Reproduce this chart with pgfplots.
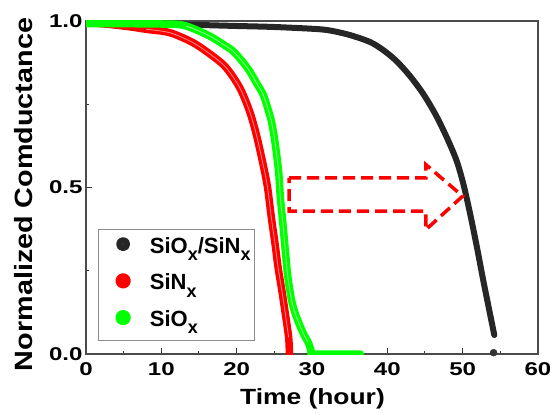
\documentclass[border=0pt]{standalone}
\usepackage{fontspec}
\setmainfont{Liberation Sans}
\usepackage{graphicx}
\usepackage{pgfplots}
\pgfplotsset{compat=1.18}
\newcommand\sub[1]{\raisebox{-0.33em}{\fontsize{18bp}{18bp}\selectfont #1}}
\begin{document}
\begin{tikzpicture}
\begin{axis}[
  scale only axis, width=452bp, height=333bp,
  xmin=0, xmax=60, ymin=0, ymax=1.0,
  xtick={0,10,...,60}, minor xtick={5,15,...,55},
  ytick={0,0.5,1}, minor ytick={0.25,0.75},
  tick pos=left, tick align=inside,
  major tick length=6bp, minor tick length=3.5bp,
  axis line style={draw=black!70, line width=1.1bp},
  every tick/.style={black!80, line width=1bp},
  /pgf/number format/assume math mode=true,
  xticklabel={\scalebox{1.3}[1]{\pgfmathprintnumber{\tick}}},
  yticklabel={\scalebox{1.3}[1]{\pgfmathprintnumber[fixed,fixed zerofill,precision=1]{\tick}}},
  ticklabel style={font=\fontsize{18.5bp}{20bp}\selectfont\bfseries},
  xticklabel style={yshift=-5bp},
  xlabel={\scalebox{1.2}[1]{Time (hour)}},
  xlabel style={at={(axis description cs:0.501,-0.153)}, anchor=base, font=\fontsize{22bp}{24bp}\selectfont\bfseries},
  ylabel={\scalebox{1.15}[1]{Normalized Comductance}},
  ylabel style={at={(axis description cs:-0.1173,0.479)}, anchor=base, font=\fontsize{25bp}{27bp}\selectfont\bfseries},
  legend style={at={(rel axis cs:0.0265,0.039)}, anchor=south west, draw=black!45, line width=0.8bp,
    inner xsep=4bp, inner ysep=8bp, row sep=14bp, column sep=0bp,
    nodes={inner sep=0pt, text height=15bp, text depth=6bp},
    font=\fontsize{22bp}{23bp}\selectfont\bfseries},
  legend cell align=left,
]
\addplot[black!85, line width=6bp, line join=round, line cap=round, smooth, tension=0.5,
  legend image code/.code={\path (0bp,0bp) (40bp,0bp); \shade[ball color=black] (17bp,4.5bp) circle (4bp);}]
coordinates {
(0,0.995) (5,0.992) (10,0.99) (15,0.988) (20,0.985) (25,0.982) (30.5,0.976) (32.5,0.971)
(35,0.958) (37.7,0.937) (39.5,0.912) (41.2,0.88) (43.0,0.835) (44.8,0.78) (46.5,0.715)
(48.0,0.645) (49.2,0.58) (50.1,0.51) (51.0,0.42) (51.9,0.32) (52.7,0.225) (53.5,0.135) (54.2,0.057)
};
\addlegendentry{SiO\sub{x}/SiN\sub{x}}
\addplot[red, line width=7.5bp, line join=round, line cap=round, smooth, tension=0.5,
  legend image code/.code={\path (0bp,0bp) (40bp,0bp); \shade[ball color=red] (17bp,4.5bp) circle (4bp);}]
coordinates {
(0,0.995) (3,0.99) (6,0.982) (8,0.975) (11.1,0.965) (14.2,0.935) (16.8,0.895) (18.6,0.86)
(20.4,0.80) (21.7,0.73) (22.6,0.66) (23.5,0.57) (24.1,0.50) (24.6,0.41) (25.1,0.33)
(25.5,0.26) (26.0,0.19) (26.4,0.13) (26.9,0.05) (27.0,0.0)
};
\addlegendentry{SiN\sub{x}}
\addplot[red!45!white, line width=0.8bp, line join=round, smooth, tension=0.5, forget plot]
coordinates {
(8,0.975) (11.1,0.965) (14.2,0.935) (16.8,0.895) (18.6,0.86)
(20.4,0.80) (21.7,0.73) (22.6,0.66) (23.5,0.57) (24.1,0.50) (24.6,0.41) (25.1,0.33)
(25.5,0.26) (26.0,0.19) (26.4,0.13) (26.9,0.05)
};
\addplot[green, line width=7.5bp, line join=round, line cap=round, smooth, tension=0.5,
  legend image code/.code={\path (0bp,0bp) (40bp,0bp); \shade[ball color=green] (17bp,4.5bp) circle (4bp);}]
coordinates {
(0,0.992) (5,0.992) (10,0.991) (12,0.99) (13.3,0.985) (15,0.97) (16.8,0.95) (18.2,0.93)
(19.5,0.91) (20.7,0.88) (21.7,0.85) (22.6,0.815) (23.5,0.78) (24.1,0.74) (24.6,0.70)
(25.0,0.65) (25.3,0.60) (25.6,0.54) (25.8,0.47) (26.1,0.40) (26.5,0.30) (26.8,0.23)
(27.3,0.16) (27.8,0.12) (28.4,0.085) (29.0,0.055) (29.5,0.035) (29.9,0.01) (30.3,0.0) (36.4,0.0)
};
\addlegendentry{SiO\sub{x}}
\addplot[green!40!white, line width=0.8bp, line join=round, smooth, tension=0.5, forget plot]
coordinates {
(13.3,0.985) (15,0.97) (16.8,0.95) (18.2,0.93)
(19.5,0.91) (20.7,0.88) (21.7,0.85) (22.6,0.815) (23.5,0.78) (24.1,0.74) (24.6,0.70)
(25.0,0.65) (25.3,0.60) (25.6,0.54) (25.8,0.47) (26.1,0.40) (26.5,0.30) (26.8,0.23)
(27.3,0.16) (27.8,0.12) (28.4,0.085) (29.0,0.055) (29.5,0.035)
};
\addplot[only marks, mark=*, mark size=3.5bp, black!80, forget plot] coordinates {(54.1,0.004)};
\draw[red, line width=3.5bp, dash pattern=on 12bp off 6bp, line join=miter]
  (axis cs:26.95,0.529) -- (axis cs:45.1,0.529) -- (axis cs:45.1,0.569) -- (axis cs:50.0,0.474)
  -- (axis cs:45.1,0.373) -- (axis cs:45.1,0.429) -- (axis cs:26.95,0.429) -- cycle;
\end{axis}
\pgfresetboundingbox
\path[use as bounding box] (-86bp,-61bp) rectangle (464bp,354bp);
\end{tikzpicture}
\end{document}
